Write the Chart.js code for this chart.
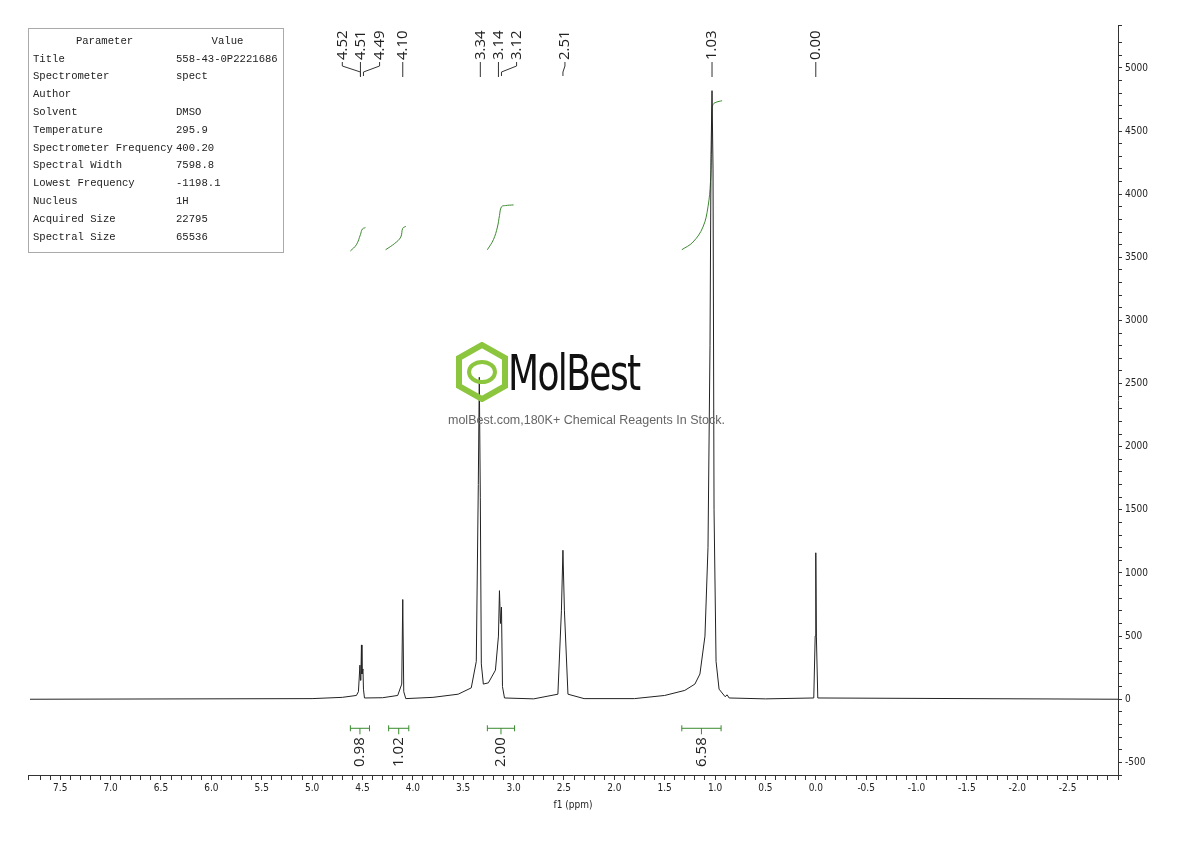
<!DOCTYPE html>
<html><head><meta charset="utf-8">
<script src="https://cdn.jsdelivr.net/npm/chart.js@4"></script>
<style>
body{margin:0;background:#fff;width:1190px;height:841px;overflow:hidden;position:relative}
#wrap{position:absolute;left:0;top:0;width:1190px;height:841px}
#params{position:absolute;left:28px;top:28px;width:256px;height:225px;border:1px solid #aaa;font-family:"Liberation Mono",monospace;font-size:10.6px;color:#222;box-sizing:border-box;padding:3px 4px}
#params table{border-collapse:collapse;width:100%}
#params td{padding:0;height:17.8px;white-space:nowrap}
#params td:first-child{width:143px}
#mark{position:absolute;left:450px;top:340px;width:300px;text-align:left;pointer-events:none}
#mark .big{font-family:"DejaVu Sans Condensed","DejaVu Sans",sans-serif;font-size:50px;color:#111;position:absolute;left:58px;top:4px;letter-spacing:-2px;transform:scaleX(0.8);transform-origin:left}
#mark .small{position:absolute;left:-2px;top:73px;font-family:"Liberation Sans",sans-serif;font-size:12.5px;color:#666;white-space:nowrap}
</style></head><body>
<div id="wrap"><canvas id="nmrChart" width="1190" height="841"></canvas></div>
<div id="params"><table>
<tr><td style="text-align:center">Parameter</td><td style="text-align:center">Value</td></tr>
<tr><td>Title</td><td>558-43-0P2221686</td></tr>
<tr><td>Spectrometer</td><td>spect</td></tr>
<tr><td>Author</td><td></td></tr>
<tr><td>Solvent</td><td>DMSO</td></tr>
<tr><td>Temperature</td><td>295.9</td></tr>
<tr><td>Spectrometer Frequency</td><td>400.20</td></tr>
<tr><td>Spectral Width</td><td>7598.8</td></tr>
<tr><td>Lowest Frequency</td><td>-1198.1</td></tr>
<tr><td>Nucleus</td><td>1H</td></tr>
<tr><td>Acquired Size</td><td>22795</td></tr>
<tr><td>Spectral Size</td><td>65536</td></tr>
</table></div>
<div id="mark">
<svg width="60" height="60" style="position:absolute;left:2px;top:2px"><polygon points="30,3 53,16 53,44 30,57 7,44 7,16" fill="none" stroke="#8cc63f" stroke-width="6"/><ellipse cx="30" cy="30" rx="13" ry="10" fill="none" stroke="#8cc63f" stroke-width="4"/></svg>
<div class="big">MolBest</div>
<div class="small">molBest.com,180K+ Chemical Reagents In Stock.</div>
</div>
<script>
// spectrum points (ppm, intensity)
const shifts = [7.8, 5.0, 4.7, 4.56, 4.54, 4.525, 4.52, 4.515, 4.51, 4.505, 4.495, 4.49, 4.48, 4.3, 4.15, 4.11, 4.10, 4.09, 4.07, 3.8, 3.55, 3.42, 3.37, 3.35, 3.34, 3.33, 3.32, 3.30, 3.25, 3.18, 3.15, 3.14, 3.13, 3.12, 3.11, 3.09, 2.8, 2.56, 2.525, 2.51, 2.495, 2.46, 2.3, 1.8, 1.5, 1.3, 1.2, 1.15, 1.10, 1.07, 1.05, 1.04, 1.03, 1.02, 1.01, 0.99, 0.96, 0.90, 0.88, 0.86, 0.5, 0.02, 0.006, 0.0, -0.006, -0.02, -3.0];
const intensity = [0, 5, 15, 30, 60, 270, 150, 200, 430, 200, 240, 80, 10, 12, 30, 120, 790, 60, 5, 15, 40, 90, 300, 1700, 2550, 1600, 280, 120, 130, 230, 500, 860, 600, 730, 100, 10, 3, 40, 700, 1180, 700, 40, 5, 5, 30, 70, 120, 200, 500, 1200, 2800, 4300, 4820, 4200, 1500, 300, 80, 20, 35, 10, 3, 10, 500, 1160, 500, 10, 0];

// integral curves
const int1X = [4.62, 4.56, 4.52, 4.50, 4.47];
const int1Y = [3550, 3600, 3680, 3725, 3735];
const int2X = [4.27, 4.18, 4.12, 4.10, 4.07];
const int2Y = [3560, 3610, 3660, 3730, 3745];
const int3X = [3.26, 3.20, 3.16, 3.14, 3.12, 3.08, 3.00];
const int3Y = [3560, 3640, 3740, 3830, 3900, 3910, 3915];
const int4X = [1.33, 1.22, 1.12, 1.07, 1.045, 1.035, 1.03, 1.02, 1.0, 0.96, 0.93];
const int4Y = [3560, 3620, 3740, 3900, 4100, 4350, 4680, 4710, 4725, 4735, 4740];

const integralFrom = [4.62, 4.24, 3.26, 1.33];
const integralTo = [4.43, 4.04, 2.99, 0.94];
const integralValue = ['0.98', '1.02', '2.00', '6.58'];

const peakLabels = ['4.52', '4.51', '4.49', '4.10', '3.34', '3.14', '3.12', '2.51', '1.03', '0.00'];
const labelSlot = [4.70, 4.52, 4.33, 4.10, 3.33, 3.15, 2.97, 2.49, 1.03, 0.00];

const pts = (xs, ys) => xs.map((x, i) => ({ x: x, y: ys[i] }));
const green = '#3a8a2e';
const intDs = (xs, ys) => ({ data: pts(xs, ys), borderColor: green, borderWidth: 1, pointRadius: 0, tension: 0.4 });

const annot = {
    id: 'annot',
    afterDatasetsDraw(chart) {
        const ctx = chart.ctx, xs = chart.scales.x, ys = chart.scales.y;
        ctx.save();
        ctx.strokeStyle = green; ctx.lineWidth = 1;
        const yb = ys.getPixelForValue(-230);
        integralFrom.forEach((f, i) => {
            const a = xs.getPixelForValue(f), b = xs.getPixelForValue(integralTo[i]), m = (a + b) / 2;
            ctx.beginPath();
            ctx.moveTo(a, yb); ctx.lineTo(b, yb);
            ctx.moveTo(a, yb - 3); ctx.lineTo(a, yb + 3);
            ctx.moveTo(b, yb - 3); ctx.lineTo(b, yb + 3);
            ctx.moveTo(m, yb); ctx.lineTo(m, yb + 6);
            ctx.stroke();
            ctx.save();
            ctx.translate(m, yb + 9); ctx.rotate(-Math.PI / 2);
            ctx.fillStyle = '#222'; ctx.font = '15px "Open Sans", sans-serif';
            ctx.textAlign = 'right'; ctx.textBaseline = 'middle';
            ctx.fillText(integralValue[i], 0, 0);
            ctx.restore();
        });
        ctx.strokeStyle = '#333';
        peakLabels.forEach((lab, i) => {
            const lx = xs.getPixelForValue(labelSlot[i]);
            const px = xs.getPixelForValue(parseFloat(lab));
            ctx.save();
            ctx.translate(lx, 60); ctx.rotate(-Math.PI / 2);
            ctx.fillStyle = '#222'; ctx.font = '15px "Open Sans", sans-serif';
            ctx.textAlign = 'left'; ctx.textBaseline = 'middle';
            ctx.fillText(lab, 0, 0);
            ctx.restore();
            ctx.beginPath();
            if (Math.abs(lx - px) < 2) {
                ctx.moveTo(lx, 62); ctx.lineTo(lx, 77);
            } else {
                ctx.moveTo(lx, 62); ctx.lineTo(lx, 66); ctx.lineTo(px, 72); ctx.lineTo(px, 76);
            }
            ctx.stroke();
        });
        ctx.restore();
    }
};

new Chart(document.getElementById('nmrChart'), {
    type: 'line',
    data: {
        datasets: [
            { data: pts(shifts, intensity), borderColor: '#222', borderWidth: 1, pointRadius: 0, tension: 0 },
            intDs(int1X, int1Y), intDs(int2X, int2Y), intDs(int3X, int3Y), intDs(int4X, int4Y)
        ]
    },
    options: {
        responsive: false, animation: false,
        layout: { padding: { left: 28, top: 25, right: 0, bottom: 30 } },
        plugins: { legend: { display: false }, tooltip: { enabled: false } },
        scales: {
            x: {
                type: 'linear', reverse: true, min: -3.0, max: 7.82,
                afterFit(s) { s.height = 36; },
                border: { color: '#333' },
                grid: { drawOnChartArea: false, tickLength: 5, color: '#333' },
                ticks: {
                    stepSize: 0.1, autoSkip: false, maxRotation: 0, color: '#222', padding: 2,
                    font: { family: '"DejaVu Sans Condensed", "DejaVu Sans"', size: 10 },
                    callback(v) { const k = Math.round(v * 10); return (k % 5 === 0 && k > -30) ? (k / 10).toFixed(1) : ''; }
                },
                title: { display: true, text: 'f1 (ppm)', padding: 0, color: '#222', font: { family: '"DejaVu Sans Condensed"', size: 10 } }
            },
            y: {
                position: 'right', min: -600, max: 5340,
                afterFit(s) { s.width = 72; },
                border: { color: '#333' },
                grid: { drawOnChartArea: false, tickLength: 4, color: '#333' },
                ticks: {
                    stepSize: 100, autoSkip: false, color: '#222',
                    font: { family: '"DejaVu Sans Condensed", "DejaVu Sans"', size: 10 },
                    callback(v) { return Math.round(v) % 500 === 0 ? String(Math.round(v)) : ''; }
                }
            }
        }
    },
    plugins: [annot]
});
</script>
</body></html>
